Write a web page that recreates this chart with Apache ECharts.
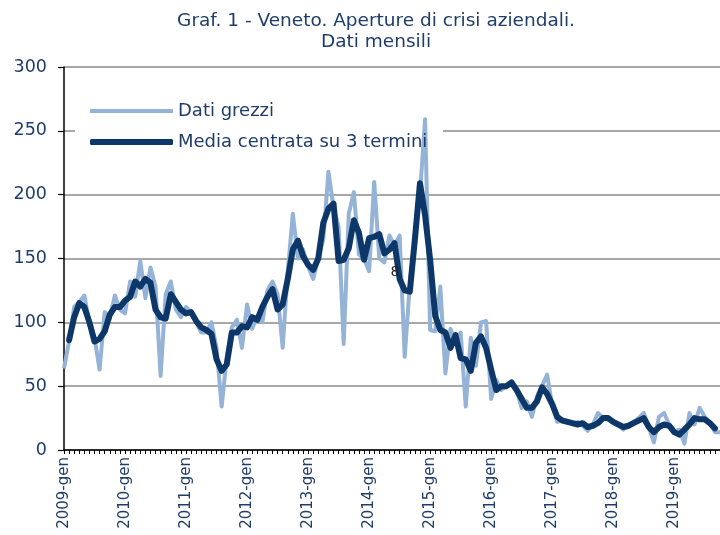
<!DOCTYPE html>
<html><head><meta charset="utf-8">
<script src="https://cdn.jsdelivr.net/npm/echarts@6/dist/echarts.min.js"></script>
<style>html,body{margin:0;padding:0;background:#fff}#c{width:720px;height:535px}</style>
</head><body><div id="c"></div>
<script>
const monthNames = ['gen','feb','mar','apr','mag','giu','lug','ago','set','ott','nov','dic'];
const startYear = 2009;
const nMonths = 130;
const categories = [];
for (let i = 0; i < nMonths; i++) categories.push((startYear + Math.floor(i / 12)) + '-' + monthNames[i % 12]);

const seriesNames = ['Dati grezzi', 'Media centrata su 3 termini'];

const datiGrezzi = [
  64,85,112,116,121,100,88,63,108,103,121,110,
  107,132,120,148,119,143,128,58,122,132,110,104,
  112,108,100,92,92,100,80,34,72,96,102,80,
  114,95,105,100,125,132,122,80,140,185,150,157,
  144,134,150,165,218,190,175,83,185,202,153,150,
  140,210,150,147,168,160,168,73,130,168,200,259,
  94,93,128,60,95,84,92,34,88,66,100,101,
  40,55,47,50,53,47,33,38,26,42,50,59,
  35,22,24,23,20,22,19,15,20,29,25,24,
  22,20,16,20,22,25,29,18,6,26,29,20,
  14,16,5,29,20,33,26,22,14,14
];

const mediaCentrata = [
  null,86,104,115,112,100,85,87,93,106,112,112,
  117,120,132,128,134,131,110,104,103,122,116,110,
  107,108,101,96,94,91,71,62,67,92,92,97,
  96,104,102,112,120,126,110,114,134,157,164,152,
  145,141,150,178,189,193,148,149,158,180,170,149,
  166,167,169,154,157,162,134,125,124,165,209,184,
  149,105,94,92,80,90,72,71,62,84,89,80,
  63,47,50,50,53,47,40,33,33,38,49,44,
  36,26,23,22,21,20,21,18,19,21,25,25,
  22,20,18,19,21,23,25,18,14,18,20,19,
  14,12,16,20,25,24,24,21,17,null
];

const yMin = 0, yMax = 300, yStep = 50;
const strayLabel = '8';

const navy = '#1f3d6b';
const font = 'DejaVu Sans';

const chart = echarts.init(document.getElementById('c'), null, {renderer: 'canvas'});
chart.setOption({
  animation: false,
  backgroundColor: '#ffffff',
  title: {
    text: 'Graf. 1 - Veneto. Aperture di crisi aziendali.\nDati mensili',
    left: 376, top: 11, padding: 0, textAlign: 'center',
    textStyle: {fontFamily: font, fontSize: 18.5, fontWeight: 'normal', color: navy, lineHeight: 21}
  },
  grid: {left: 64, top: 67, width: 658, height: 383, containLabel: false},
  legend: [
    {data: [seriesNames[0]], left: 90, top: 102, padding: 0, itemWidth: 83, itemHeight: 4, icon: 'rect',
     itemGap: 0, textStyle: {fontFamily: font, fontSize: 18, color: navy}, selectedMode: false},
    {data: [seriesNames[1]], left: 90, top: 133, padding: 0, itemWidth: 83, itemHeight: 6, icon: 'roundRect',
     itemGap: 0, textStyle: {fontFamily: font, fontSize: 18, color: navy}, selectedMode: false}
  ],
  xAxis: {
    type: 'category', data: categories, boundaryGap: false,
    axisLine: {lineStyle: {color: '#000', width: 1.5}},
    axisTick: {show: true, interval: 0, length: 4, lineStyle: {color: '#000', width: 1}},
    axisLabel: {interval: function (i) { return i % 12 === 0; }, rotate: 90, fontFamily: font, fontSize: 15, color: navy, margin: 7},
    splitLine: {show: false}
  },
  yAxis: {
    type: 'value', min: yMin, max: yMax, interval: yStep,
    axisLine: {show: true, lineStyle: {color: '#000', width: 1.5}},
    axisTick: {show: true, length: 6, lineStyle: {color: '#000', width: 1.2}},
    axisLabel: {fontFamily: font, fontSize: 17.5, color: navy, margin: 17},
    splitLine: {show: true, lineStyle: {color: '#8a8a8a', width: 1.5}}
  },
  graphic: [
    {type: 'rect', shape: {x: 75, y: 92, width: 368, height: 68}, style: {fill: '#ffffff'}, z: 1, silent: true},
    {type: 'text', x: 395, y: 272, style: {text: strayLabel, font: '14px "DejaVu Sans"', fill: '#222', align: 'center', verticalAlign: 'middle'}, z: 5}
  ],
  series: [
    {name: seriesNames[0], type: 'line', data: datiGrezzi, symbol: 'none', showSymbol: false,
     lineStyle: {color: '#95b3d7', width: 4, join: 'round'}, itemStyle: {color: '#95b3d7'}, z: 3},
    {name: seriesNames[1], type: 'line', data: mediaCentrata, symbol: 'none', showSymbol: false, connectNulls: false,
     lineStyle: {color: '#0c3768', width: 6, join: 'round', cap: 'round'}, itemStyle: {color: '#0c3768'}, z: 4}
  ]
});
</script></body></html>
